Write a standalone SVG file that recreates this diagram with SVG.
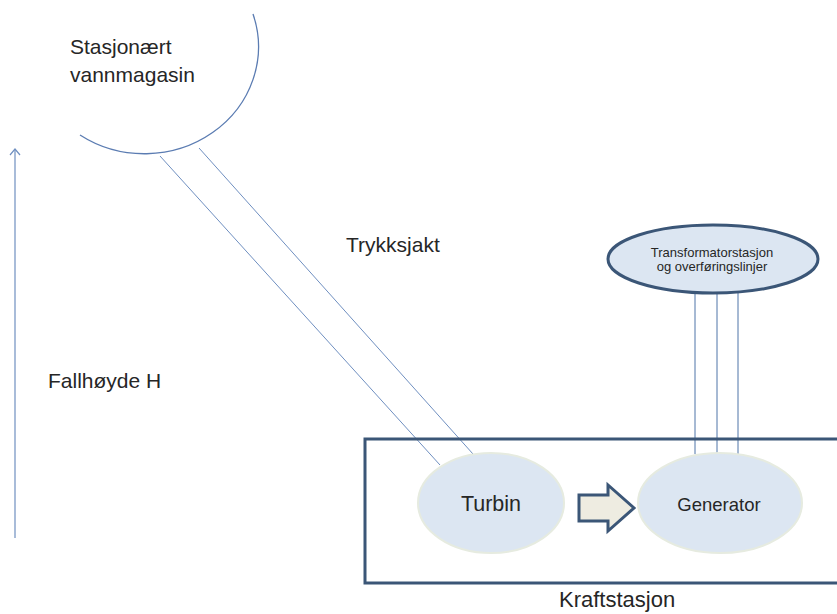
<svg xmlns="http://www.w3.org/2000/svg" width="837" height="614" viewBox="0 0 837 614">
<defs>
<style>
.t{font-family:"Liberation Sans",Arial,sans-serif;fill:#262626}
.thin{fill:none;stroke:#6f8fc0;stroke-width:1}
.node{fill:#dce6f2;stroke:#e6ebe0;stroke-width:2}
</style>
<marker id="open" viewBox="0 0 12 12" refX="11" refY="6" markerWidth="12" markerHeight="12" markerUnits="userSpaceOnUse" orient="auto">
<path d="M5 1 L11 6 L5 11" fill="none" stroke="#6f8fc0" stroke-width="1.2"/>
</marker>
</defs>
<rect width="837" height="614" fill="#ffffff"/>
<g id="reservoir">
<path d="M253 14 A114 107 0 0 1 80 135" fill="none" stroke="#5b7cb2" stroke-width="1.3"/>
<text class="t" x="70" y="54" font-size="21">Stasjonært</text>
<text class="t" x="70" y="82" font-size="21">vannmagasin</text>
</g>
<g id="connectors">
<line class="thin" x1="160" y1="156" x2="440" y2="465"/>
<line class="thin" x1="199" y1="148" x2="473" y2="454"/>
<line x1="15" y1="538" x2="15" y2="149" stroke="#6f8fc0" stroke-width="1.2" marker-end="url(#open)"/>
<line x1="695" y1="293" x2="695" y2="454" stroke="#4f74a8" stroke-width="1"/>
<line x1="717" y1="293" x2="717" y2="454" stroke="#4f74a8" stroke-width="1"/>
<line x1="738" y1="293" x2="738" y2="454" stroke="#4f74a8" stroke-width="1"/>
</g>
<g id="kraftstasjon">
<rect x="365" y="439" width="480" height="144" fill="none" stroke="#3b5677" stroke-width="3"/>
<text class="t" x="559" y="607" font-size="22">Kraftstasjon</text>
</g>
<g id="turbin">
<ellipse class="node" cx="491" cy="503" rx="73" ry="50"/>
<text class="t" x="491" y="511" font-size="21.5" text-anchor="middle">Turbin</text>
</g>
<g id="pil">
<path d="M579 495 L608 495 L608 485 L634 508 L608 531 L608 521 L579 521 Z" fill="#eeece1" stroke="#3b5677" stroke-width="3" stroke-linejoin="miter"/>
</g>
<g id="generator">
<ellipse class="node" cx="720" cy="503" rx="82" ry="50"/>
<text class="t" x="719" y="511" font-size="18.5" text-anchor="middle">Generator</text>
</g>
<g id="transformator">
<ellipse cx="713" cy="259" rx="105" ry="34" fill="#dce6f2" stroke="#3b5677" stroke-width="3"/>
<text class="t" x="712" y="257" font-size="13" text-anchor="middle">Transformatorstasjon</text>
<text class="t" x="712" y="271" font-size="13" text-anchor="middle">og overføringslinjer</text>
</g>
<g id="labels">
<text class="t" x="346" y="252" font-size="21">Trykksjakt</text>
<text class="t" x="48" y="388" font-size="21">Fallhøyde H</text>
</g>
</svg>
